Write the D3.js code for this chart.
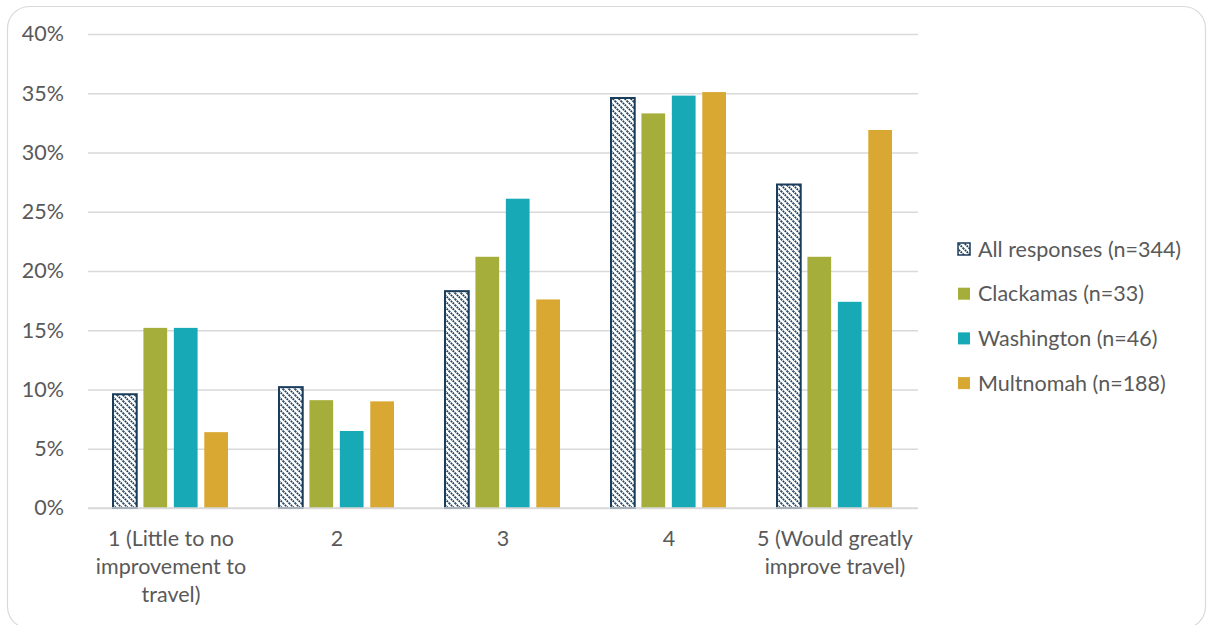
<!DOCTYPE html>
<html>
<head>
<meta charset="utf-8">
<script src="https://cdn.jsdelivr.net/npm/d3@7"></script>
<style>
  html, body { margin: 0; padding: 0; background: #fff; }
  svg { display: block; font-family: Lato, "Open Sans", sans-serif; }
</style>
</head>
<body>
<svg id="chart" width="1207" height="625"></svg>
<script>
// Ratings of expected travel improvement, by county
const categories = [
  ["1 (Little to no", "improvement to", "travel)"],
  ["2"],
  ["3"],
  ["4"],
  ["5 (Would greatly", "improve travel)"]
];
const seriesNames = ["All responses (n=344)", "Clackamas (n=33)", "Washington (n=46)", "Multnomah (n=188)"];
const allResponses = [9.6, 10.2, 18.3, 34.6, 27.3];
const clackamas    = [15.2, 9.1, 21.2, 33.3, 21.2];
const washington   = [15.2, 6.5, 26.1, 34.8, 17.4];
const multnomah    = [6.4, 9.0, 17.6, 35.1, 31.9];
const yTicks = [0, 5, 10, 15, 20, 25, 30, 35, 40];

const seriesValues = [allResponses, clackamas, washington, multnomah];
const colors = ["url(#hatch)", "#A5AE3A", "#17A9B6", "#D9A832"];
const fontSize = 21.5;
const textColor = "#595959";

const svg = d3.select("#chart");
const defs = svg.append("defs");
const pat = defs.append("pattern")
  .attr("id", "hatch")
  .attr("patternUnits", "userSpaceOnUse")
  .attr("width", 6).attr("height", 6);
pat.append("rect").attr("width", 6).attr("height", 6).attr("fill", "#fff");
pat.append("path")
  .attr("d", "M-1,-1 L7,7 M-1,5 L1,7 M5,-1 L7,1")
  .attr("stroke", "#1B3D5C")
  .attr("stroke-width", 1.8)
  .attr("stroke-dasharray", "1.8,0.8");

// outer rounded frame
svg.append("rect")
  .attr("x", 7.5).attr("y", 6.5)
  .attr("width", 1198).attr("height", 622)
  .attr("rx", 22).attr("ry", 22)
  .attr("fill", "none")
  .attr("stroke", "#D9D9D9")
  .attr("stroke-width", 1.2);

const plot = { left: 88, right: 918, top: 34, bottom: 508 };

const x0 = d3.scaleBand()
  .domain(d3.range(categories.length))
  .range([plot.left, plot.right]);
const x1 = d3.scaleBand()
  .domain(d3.range(seriesNames.length))
  .range([25, x0.bandwidth() - 26])
  .paddingInner(0.22);
const y = d3.scaleLinear().domain([0, 40]).range([plot.bottom, plot.top]);

// gridlines and y labels
const yAxis = d3.axisLeft(y)
  .tickValues(yTicks)
  .tickFormat(d => d + "%")
  .tickSize(-(plot.right - plot.left))
  .tickPadding(24);
const gy = svg.append("g")
  .attr("transform", `translate(${plot.left},0)`)
  .call(yAxis);
gy.select(".domain").remove();
gy.selectAll(".tick line").attr("stroke", "#D9D9D9").attr("stroke-width", 1.3);
gy.selectAll(".tick text")
  .attr("fill", textColor)
  .attr("font-size", fontSize)
  .attr("font-family", "Lato, 'Open Sans', sans-serif");

// bars
const groups = svg.append("g").selectAll("g")
  .data(categories)
  .join("g")
  .attr("transform", (d, i) => `translate(${x0(i)},0)`);

groups.selectAll("rect")
  .data((d, i) => seriesValues.map((vals, s) => ({ s, v: vals[i] })))
  .join("rect")
  .attr("x", d => x1(d.s))
  .attr("width", x1.bandwidth())
  .attr("y", d => y(d.v))
  .attr("height", d => y(0) - y(d.v))
  .attr("fill", d => colors[d.s])
  .attr("stroke", d => d.s === 0 ? "#1B3D5C" : "none")
  .attr("stroke-width", 2);

// x-axis baseline
svg.append("line")
  .attr("x1", plot.left).attr("x2", plot.right)
  .attr("y1", plot.bottom).attr("y2", plot.bottom)
  .attr("stroke", "#D9D9D9").attr("stroke-width", 1.3);

// category labels
const xl = svg.append("g").selectAll("text")
  .data(categories)
  .join("text")
  .attr("x", (d, i) => x0(i) + x0.bandwidth() / 2)
  .attr("y", 546)
  .attr("text-anchor", "middle")
  .attr("fill", textColor)
  .attr("font-size", fontSize);
xl.selectAll("tspan")
  .data(d => d)
  .join("tspan")
  .attr("x", function () { return this.parentNode.getAttribute("x"); })
  .attr("dy", (d, i) => i === 0 ? 0 : 28)
  .text(d => d);

// legend
const legend = svg.append("g").selectAll("g")
  .data(seriesNames)
  .join("g")
  .attr("transform", (d, i) => `translate(958,${249 + i * 44.7})`);
legend.append("rect")
  .attr("x", 0).attr("y", -6)
  .attr("width", 12).attr("height", 12)
  .attr("fill", (d, i) => colors[i])
  .attr("stroke", (d, i) => i === 0 ? "#1B3D5C" : "none")
  .attr("stroke-width", 1.5);
legend.append("text")
  .attr("x", 20).attr("y", 7.5)
  .attr("fill", textColor)
  .attr("font-size", fontSize)
  .text(d => d);
</script>
</body>
</html>
